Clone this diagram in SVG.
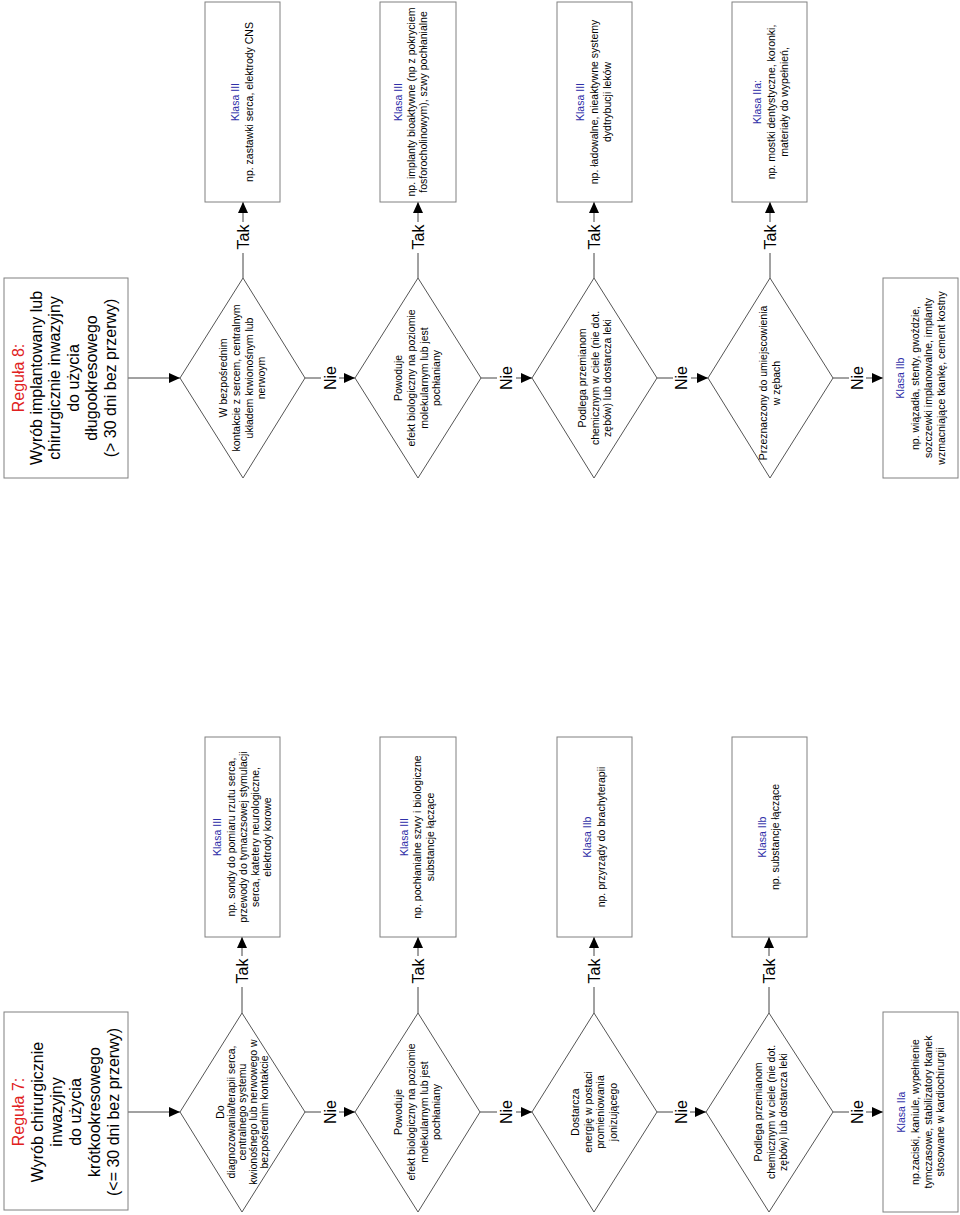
<svg xmlns="http://www.w3.org/2000/svg" width="960" height="1215" viewBox="0 0 960 1215">
<style>
.bg{fill:#fff}
.box{fill:#fff;stroke:#808080;stroke-width:1}
.dia{fill:#fff;stroke:#555;stroke-width:1}
.ln{stroke:#444;stroke-width:1;fill:none}
.t{font-family:"Liberation Sans",Arial,sans-serif;fill:#000;text-anchor:middle}
.ti{font-size:16px}
.d{font-size:10.5px}
.lb{font-size:16px}
.k{fill:#2f2fa8}
.r{fill:#e02020}
</style>
<defs>
<marker id="ah" markerUnits="userSpaceOnUse" markerWidth="12" markerHeight="10" refX="11" refY="5" orient="auto">
<path d="M0,0 L11,5 L0,10 z" fill="#000"/>
</marker>
</defs>
<rect class="bg" x="0" y="0" width="960" height="1215"/>

<g id="connectors">
<!-- Rule 7 chain -->
<line class="ln" x1="128" y1="1112" x2="180" y2="1112" marker-end="url(#ah)"/>
<line class="ln" x1="305" y1="1112" x2="321" y2="1112"/><line class="ln" x1="339" y1="1112" x2="355" y2="1112" marker-end="url(#ah)"/>
<line class="ln" x1="480" y1="1112" x2="497" y2="1112"/><line class="ln" x1="516" y1="1112" x2="532" y2="1112" marker-end="url(#ah)"/>
<line class="ln" x1="657" y1="1112" x2="673" y2="1112"/><line class="ln" x1="690" y1="1112" x2="706" y2="1112" marker-end="url(#ah)"/>
<line class="ln" x1="833" y1="1112" x2="849" y2="1112"/><line class="ln" x1="866" y1="1112" x2="883" y2="1112" marker-end="url(#ah)"/>
<!-- Rule 7 Tak -->
<line class="ln" x1="242" y1="1013" x2="242" y2="987"/><line class="ln" x1="242" y1="956" x2="242" y2="937" marker-end="url(#ah)"/>
<line class="ln" x1="418" y1="1013" x2="418" y2="987"/><line class="ln" x1="418" y1="956" x2="418" y2="937" marker-end="url(#ah)"/>
<line class="ln" x1="594" y1="1013" x2="594" y2="987"/><line class="ln" x1="594" y1="956" x2="594" y2="937" marker-end="url(#ah)"/>
<line class="ln" x1="769" y1="1013" x2="769" y2="987"/><line class="ln" x1="769" y1="956" x2="769" y2="937" marker-end="url(#ah)"/>
<!-- Rule 8 chain -->
<line class="ln" x1="128" y1="378" x2="180" y2="378" marker-end="url(#ah)"/>
<line class="ln" x1="305" y1="378" x2="321" y2="378"/><line class="ln" x1="339" y1="378" x2="355" y2="378" marker-end="url(#ah)"/>
<line class="ln" x1="481" y1="378" x2="497" y2="378"/><line class="ln" x1="516" y1="378" x2="532" y2="378" marker-end="url(#ah)"/>
<line class="ln" x1="657" y1="378" x2="673" y2="378"/><line class="ln" x1="691" y1="378" x2="708" y2="378" marker-end="url(#ah)"/>
<line class="ln" x1="833" y1="378" x2="849" y2="378"/><line class="ln" x1="866" y1="378" x2="883" y2="378" marker-end="url(#ah)"/>
<!-- Rule 8 Tak -->
<line class="ln" x1="243" y1="278" x2="243" y2="253"/><line class="ln" x1="243" y1="222" x2="243" y2="202" marker-end="url(#ah)"/>
<line class="ln" x1="418" y1="278" x2="418" y2="253"/><line class="ln" x1="418" y1="222" x2="418" y2="202" marker-end="url(#ah)"/>
<line class="ln" x1="594" y1="278" x2="594" y2="253"/><line class="ln" x1="594" y1="222" x2="594" y2="202" marker-end="url(#ah)"/>
<line class="ln" x1="770" y1="278" x2="770" y2="253"/><line class="ln" x1="770" y1="222" x2="770" y2="202" marker-end="url(#ah)"/>
<!-- labels -->
<g class="t lb">
<text transform="translate(336,1112) rotate(-90)">Nie</text>
<text transform="translate(512,1112) rotate(-90)">Nie</text>
<text transform="translate(687,1112) rotate(-90)">Nie</text>
<text transform="translate(863,1112) rotate(-90)">Nie</text>
<text transform="translate(248,971) rotate(-90)">Tak</text>
<text transform="translate(424,971) rotate(-90)">Tak</text>
<text transform="translate(600,971) rotate(-90)">Tak</text>
<text transform="translate(775,971) rotate(-90)">Tak</text>
<text transform="translate(336,378) rotate(-90)">Nie</text>
<text transform="translate(512,378) rotate(-90)">Nie</text>
<text transform="translate(687,378) rotate(-90)">Nie</text>
<text transform="translate(863,378) rotate(-90)">Nie</text>
<text transform="translate(249,237) rotate(-90)">Tak</text>
<text transform="translate(424,237) rotate(-90)">Tak</text>
<text transform="translate(600,237) rotate(-90)">Tak</text>
<text transform="translate(776,237) rotate(-90)">Tak</text>
</g>
</g>

<!-- ===== Rule 7 ===== -->
<g id="r7-title">
<rect class="box" x="4" y="1012" width="124" height="198"/>
<text class="t ti" transform="translate(24,1112) rotate(-90)"><tspan class="r" x="0" dy="0">Reguła 7:</tspan><tspan x="0" dy="18.9">Wyrób chirurgicznie</tspan><tspan x="0" dy="18.9">inwazyjny</tspan><tspan x="0" dy="18.9">do użycia</tspan><tspan x="0" dy="18.9">krótkookresowego</tspan><tspan x="0" dy="18.9">(&lt;= 30 dni bez przerwy)</tspan></text>
</g>
<g id="r7-d1">
<polygon class="dia" points="180,1112 242,1013 305,1112 242,1212"/>
<text class="t d" transform="translate(224,1112) rotate(-90)"><tspan x="0" dy="0">Do</tspan><tspan x="0" dy="11">diagnozowania/terapii serca,</tspan><tspan x="0" dy="11">centralnego systemu</tspan><tspan x="0" dy="11">kwionośnego  lub nerwowego w</tspan><tspan x="0" dy="11">bezpośrednim kontakcie</tspan></text>
</g>
<g id="r7-d2">
<polygon class="dia" points="355,1112 418,1013 480,1112 418,1212"/>
<text class="t d" transform="translate(402,1112) rotate(-90)"><tspan x="0" dy="0">Powoduje</tspan><tspan x="0" dy="13">efekt biologiczny na poziomie</tspan><tspan x="0" dy="13">molekularnym lub jest</tspan><tspan x="0" dy="12">pochłaniany</tspan></text>
</g>
<g id="r7-d3">
<polygon class="dia" points="532,1112 594,1013 657,1112 594,1212"/>
<text class="t d" transform="translate(579,1112) rotate(-90)"><tspan x="0" dy="0">Dostarcza</tspan><tspan x="0" dy="12.7">energię w postaci</tspan><tspan x="0" dy="12.7">promieniowania</tspan><tspan x="0" dy="12.7">jonizującego</tspan></text>
</g>
<g id="r7-d4">
<polygon class="dia" points="706,1112 769,1013 833,1112 769,1212"/>
<text class="t d" transform="translate(762,1112) rotate(-90)"><tspan x="0" dy="0">Podlega przemianom</tspan><tspan x="0" dy="12.5">chemicznym w ciele (nie dot.</tspan><tspan x="0" dy="12.5">zębów) lub dostarcza leki</tspan></text>
</g>
<g id="r7-b1">
<rect class="box" x="205" y="737" width="75" height="200"/>
<text class="t d" transform="translate(221,837) rotate(-90)"><tspan class="k" x="0" dy="0">Klasa III</tspan><tspan x="0" dy="14">np. sondy do pomiaru rzutu serca,</tspan><tspan x="0" dy="12">przewody do tymaczsowej stymulacji</tspan><tspan x="0" dy="12">serca,  katetery neurologiczne,</tspan><tspan x="0" dy="12">elektrody korowe</tspan></text>
</g>
<g id="r7-b2">
<rect class="box" x="380" y="737" width="76" height="200"/>
<text class="t d" transform="translate(408,837) rotate(-90)"><tspan class="k" x="0" dy="0">Klasa III</tspan><tspan x="0" dy="13">np. pochłanialne  szwy i biologiczne</tspan><tspan x="0" dy="13">substancje łączące</tspan></text>
</g>
<g id="r7-b3">
<rect class="box" x="557" y="737" width="75" height="200"/>
<text class="t d" transform="translate(591,837) rotate(-90)"><tspan class="k" x="0" dy="0">Klasa IIb</tspan><tspan x="0" dy="14">np. przyrządy do brachyterapii</tspan></text>
</g>
<g id="r7-b4">
<rect class="box" x="732" y="737" width="75" height="200"/>
<text class="t d" transform="translate(766,837) rotate(-90)"><tspan class="k" x="0" dy="0">Klasa IIb</tspan><tspan x="0" dy="13">np. substancje łączące</tspan></text>
</g>
<g id="r7-b5">
<rect class="box" x="883" y="1012" width="75" height="200"/>
<text class="t d" transform="translate(905,1112) rotate(-90)"><tspan class="k" x="0" dy="0">Klasa IIa</tspan><tspan x="0" dy="14">np.zaciski, kaniule, wypełnienie</tspan><tspan x="0" dy="12.5">tymczasowe, stabilizatory tkanek</tspan><tspan x="0" dy="12">stosowane w kardiochirurgii</tspan></text>
</g>

<!-- ===== Rule 8 ===== -->
<g id="r8-title">
<rect class="box" x="4" y="278" width="124" height="200"/>
<text class="t ti" transform="translate(23.5,378) rotate(-90)"><tspan class="r" x="0" dy="0">Reguła 8:</tspan><tspan x="0" dy="18.4">Wyrób implantowany lub</tspan><tspan x="0" dy="18.4">chirurgicznie inwazyjny</tspan><tspan x="0" dy="18.4">do użycia</tspan><tspan x="0" dy="18.4">długookresowego</tspan><tspan x="0" dy="18.4">(&gt; 30 dni bez przerwy)</tspan></text>
</g>
<g id="r8-d1">
<polygon class="dia" points="180,378 243,278 305,378 243,478"/>
<text class="t d" transform="translate(227,378) rotate(-90)"><tspan x="0" dy="0">W bezpośrednim</tspan><tspan x="0" dy="13">kontakcie z sercem,  centralnym</tspan><tspan x="0" dy="12.5">układem krwionośnym  lub</tspan><tspan x="0" dy="12.5">nerwoym</tspan></text>
</g>
<g id="r8-d2">
<polygon class="dia" points="355,378 418,278 481,378 418,478"/>
<text class="t d" transform="translate(402,378) rotate(-90)"><tspan x="0" dy="0">Powoduje</tspan><tspan x="0" dy="13">efekt biologiczny na poziomie</tspan><tspan x="0" dy="13">molekularnym lub jest</tspan><tspan x="0" dy="12">pochłaniany</tspan></text>
</g>
<g id="r8-d3">
<polygon class="dia" points="532,378 594,278 657,378 594,478"/>
<text class="t d" transform="translate(586,378) rotate(-90)"><tspan x="0" dy="0">Podlega przemianom</tspan><tspan x="0" dy="12.5">chemicznym w ciele (nie dot.</tspan><tspan x="0" dy="12.5">zębów) lub dostarcza leki</tspan></text>
</g>
<g id="r8-d4">
<polygon class="dia" points="708,378 770,278 833,378 770,478"/>
<text class="t d" transform="translate(767,383) rotate(-90)"><tspan x="0" dy="0">Przeznaczony do umiejscowienia</tspan><tspan x="0" dy="13">w zębach</tspan></text>
</g>
<g id="r8-b1">
<rect class="box" x="205" y="2" width="75" height="200"/>
<text class="t d" transform="translate(238.5,102) rotate(-90)"><tspan class="k" x="0" dy="0">Klasa III</tspan><tspan x="0" dy="14">np. zastawki serca,  elektrody CNS</tspan></text>
</g>
<g id="r8-b2">
<rect class="box" x="380" y="2" width="76" height="200"/>
<text class="t d" transform="translate(401.5,102) rotate(-90)"><tspan class="k" x="0" dy="0">Klasa III</tspan><tspan x="0" dy="13">np. implanty bioaktywne (np z pokryciem</tspan><tspan x="0" dy="12">fosforocholinowym),  szwy pochłanialne</tspan></text>
</g>
<g id="r8-b3">
<rect class="box" x="557" y="2" width="75" height="200"/>
<text class="t d" transform="translate(584,102) rotate(-90)"><tspan class="k" x="0" dy="0">Klasa III</tspan><tspan x="0" dy="14">np. ładowalne, nieaktywne systemy</tspan><tspan x="0" dy="13">dydtrybucji leków</tspan></text>
</g>
<g id="r8-b4">
<rect class="box" x="732" y="2" width="75" height="200"/>
<text class="t d" transform="translate(760.5,102) rotate(-90)"><tspan class="k" x="0" dy="0">Klasa IIa:</tspan><tspan x="0" dy="14">np. mostki dentystyczne, koronki,</tspan><tspan x="0" dy="13">materiały do wypełnień,</tspan></text>
</g>
<g id="r8-b5">
<rect class="box" x="883" y="278" width="75" height="200"/>
<text class="t d" transform="translate(904,378) rotate(-90)"><tspan class="k" x="0" dy="0">Klasa IIb</tspan><tspan x="0" dy="15">np. wiązadła, stenty, gwoździe,</tspan><tspan x="0" dy="13">sozczewki implanowalne, implanty</tspan><tspan x="0" dy="13">wzmacniające tkankę, cement kostny</tspan></text>
</g>
</svg>
